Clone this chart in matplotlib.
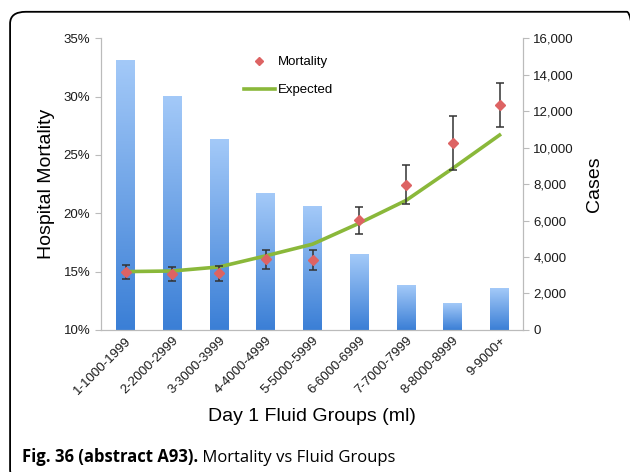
import numpy as np
import matplotlib.pyplot as plt
from matplotlib.patches import FancyBboxPatch
from matplotlib.lines import Line2D
from matplotlib.ticker import FuncFormatter

plt.rcParams['font.family'] = ['Liberation Sans', 'DejaVu Sans']

groups = ["1-1000-1999", "2-2000-2999", "3-3000-3999", "4-4000-4999", "5-5000-5999",
          "6-6000-6999", "7-7000-7999", "8-8000-8999", "9-9000+"]
cases = [14800, 12800, 10450, 7500, 6800, 4150, 2450, 1450, 2300]
mortality = [15.0, 14.8, 14.85, 16.05, 16.0, 19.4, 22.45, 26.0, 29.3]
err = [0.6, 0.6, 0.65, 0.8, 0.85, 1.15, 1.65, 2.3, 1.9]
expected = [15.0, 15.05, 15.4, 16.35, 17.35, 19.15, 21.1, 23.85, 26.7]

fig = plt.figure(figsize=(6.3, 4.72), dpi=100)
ax = fig.add_axes([0.160, 0.301, 0.670, 0.618])
ax2 = ax.twinx()
ax.set_zorder(ax2.get_zorder() + 1)
ax.patch.set_visible(False)

# bars with a vertical gradient (dark bottom, light top)
x = np.arange(len(groups))
w = 0.4
grad = np.linspace(0, 1, 100).reshape(-1, 1)
cmap = plt.matplotlib.colors.LinearSegmentedColormap.from_list("b", ["#3b7fd6", "#a3c9f8"])
for xi, c in zip(x, cases):
    ax2.imshow(grad, extent=[xi - w / 2, xi + w / 2, 0, c], origin='lower',
               cmap=cmap, aspect='auto', zorder=1)
ax2.set_xlim(-0.53, 8.5)
ax2.set_ylim(0, 16000)
ax2.set_yticks(range(0, 16001, 2000))
ax2.yaxis.set_major_formatter(FuncFormatter(lambda v, p: f"{int(v):,}"))
ax2.set_ylabel("Cases", fontsize=14, labelpad=9)

ax.plot(x, expected, color="#8ab83a", lw=2.6, zorder=2)
ax.errorbar(x, mortality, yerr=err, fmt='D', color="#dd6363", ms=5,
            ecolor="#333333", elinewidth=1.1, capsize=3, capthick=1.1, zorder=3)
ax.set_xlim(-0.53, 8.5)
ax.set_ylim(10, 35)
ax.set_yticks(range(10, 36, 5))
ax.yaxis.set_major_formatter(FuncFormatter(lambda v, p: f"{int(v)}%"))
ax.set_ylabel("Hospital Mortality", fontsize=14, labelpad=6)
ax.set_xticks(x)
ax.set_xticklabels(groups, rotation=45, ha='right', rotation_mode='anchor', fontsize=9.5)
ax.set_xlabel("Day 1 Fluid Groups (ml)", fontsize=14, labelpad=8)

for a in (ax, ax2):
    for s in a.spines.values():
        s.set_color("#bbbbbb")
    a.spines['top'].set_visible(False)
    a.tick_params(colors="#bbbbbb", labelcolor="#1a1a1a", labelsize=9.5, length=4)
ax.tick_params(axis='x', length=0)

handles = [Line2D([], [], marker='D', color="#dd6363", ls='none', ms=4),
           Line2D([], [], color="#8ab83a", lw=2.6)]
ax.legend(handles, ["Mortality", "Expected"], loc='upper left', bbox_to_anchor=(0.31, 0.98),
          frameon=False, fontsize=9.5, labelspacing=1.2, handlelength=2.4, handletextpad=0.2)

# rounded frame and caption
fig.patches.append(FancyBboxPatch((0.016, -0.02), 1.004, 0.995, transform=fig.transFigure,
                                  boxstyle="round,pad=0,rounding_size=0.025",
                                  fc='none', ec='black', lw=1.3, clip_on=False))
t1 = fig.text(0.035, 0.022, "Fig. 36 (abstract A93).", fontsize=12, fontweight='bold',
              family='Open Sans')
ax.annotate(" Mortality vs Fluid Groups", xy=(1, 0), xycoords=t1, va='bottom', ha='left',
            fontsize=12, family='Open Sans', annotation_clip=False)

fig.savefig("out.png", dpi=100)
